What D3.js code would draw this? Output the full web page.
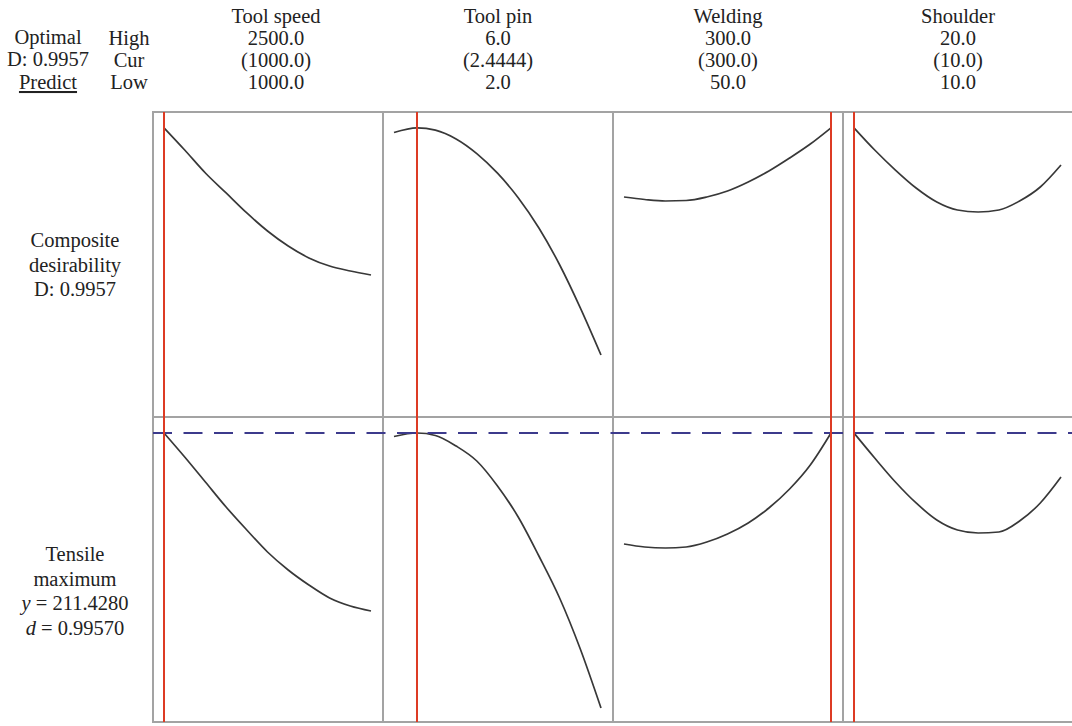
<!DOCTYPE html>
<html>
<head>
<meta charset="utf-8">
<script src="https://cdn.jsdelivr.net/npm/d3@7"></script>
<style>
  html, body { margin: 0; padding: 0; background: #fff; }
  svg { display: block; }
  text { font-family: "Liberation Serif", "DejaVu Serif", serif; fill: #222; }
</style>
</head>
<body>
<svg id="chart" width="1072" height="726"></svg>
<script>
// Factors and their settings (high / current / low)
const factors = ["Tool speed", "Tool pin", "Welding", "Shoulder"];
const highLabels = ["2500.0", "6.0", "300.0", "20.0"];
const curLabels = ["(1000.0)", "(2.4444)", "(300.0)", "(10.0)"];
const lowLabels = ["1000.0", "2.0", "50.0", "10.0"];
const lows = [1000, 2, 50, 10];
const highs = [2500, 6, 300, 20];
const current = [1000, 2.4444, 300, 10];

// Factor grids used for the profile traces
const speedX = [1000, 1150, 1300, 1450, 1600, 1750, 1900, 2050, 2200, 2350, 2500];
const pinX = [2.0, 2.4444, 2.8, 3.2, 3.6, 4.0, 4.4, 4.8, 5.2, 5.6, 6.0];
const weldX = [50, 75, 100, 125, 150, 175, 200, 225, 250, 275, 300];
const shoulderX = [10, 11, 12, 13, 14, 15, 16, 17, 18, 19, 20];

// Composite desirability along each factor
const speedD = [0.9957, 0.9504, 0.9034, 0.8626, 0.8217, 0.7850, 0.7543, 0.7300, 0.7134, 0.7032, 0.6951];
const pinD = [0.9861, 0.9957, 0.9910, 0.9730, 0.9430, 0.9030, 0.8530, 0.7910, 0.7160, 0.6280, 0.5317];
const weldD = [0.8544, 0.8493, 0.8462, 0.8472, 0.8544, 0.8666, 0.8850, 0.9075, 0.9340, 0.9626, 0.9957];
const shoulderD = [0.9957, 0.9504, 0.9095, 0.8728, 0.8442, 0.8278, 0.8237, 0.8278, 0.8462, 0.8748, 0.9197];

// Predicted tensile strength along each factor
const speedT = [211.43, 206.08, 200.51, 194.93, 189.81, 184.90, 180.89, 177.54, 174.65, 172.86, 171.75];
const pinT = [210.65, 211.43, 210.88, 208.53, 205.19, 199.62, 192.71, 184.01, 174.65, 163.28, 150.12];
const weldT = [186.69, 186.02, 185.79, 186.02, 187.13, 188.92, 191.37, 194.71, 198.95, 204.30, 211.43];
const shoulderT = [211.43, 205.86, 200.51, 195.83, 192.04, 189.81, 189.14, 189.36, 191.81, 195.83, 201.62];

const optimalD = 0.9957;
const optimalY = 211.4280;
const optimald = 0.99570;

const xs = [speedX, pinX, weldX, shoulderX];
const dSeries = [speedD, pinD, weldD, shoulderD];
const tSeries = [speedT, pinT, weldT, shoulderT];

// Layout
const panelLeft = 153, panelW = 230;
const rowTop = [112, 417], rowH = 305;
const padX = 11;

const svg = d3.select("#chart");

const yD = d3.scaleLinear().domain([0.405, 1.028]).range([rowTop[0] + rowH, rowTop[0]]);
const yT = d3.scaleLinear().domain([147, 215]).range([rowTop[1] + rowH, rowTop[1]]);

const xScales = factors.map((f, i) => {
  const left = panelLeft + i * panelW;
  return d3.scaleLinear().domain([lows[i], highs[i]]).range([left + padX, left + panelW - 12]);
});

const gray = "#a3a3a3";
const red = "#dd3b24";

// Panel frames
const frames = svg.append("g");
[0, 1].forEach(r => {
  factors.forEach((f, i) => {
    frames.append("rect")
      .attr("x", panelLeft + i * panelW)
      .attr("y", rowTop[r])
      .attr("width", panelW)
      .attr("height", rowH)
      .attr("fill", "none")
      .attr("stroke", gray)
      .attr("stroke-width", 2);
  });
});

// Profile traces
const line = (xsc, ysc) => d3.line()
  .x(d => xsc(d[0]))
  .y(d => ysc(d[1]))
  .curve(d3.curveMonotoneX);

const traces = svg.append("g")
  .attr("fill", "none")
  .attr("stroke", "#383838")
  .attr("stroke-width", 1.7)
  .attr("stroke-linejoin", "round");

factors.forEach((f, i) => {
  traces.append("path")
    .attr("d", line(xScales[i], yD)(d3.zip(xs[i], dSeries[i])));
  traces.append("path")
    .attr("d", line(xScales[i], yT)(d3.zip(xs[i], tSeries[i])));
});

// Optimal response reference line
svg.append("line")
  .attr("x1", panelLeft)
  .attr("x2", 1072)
  .attr("y1", yT(optimalY))
  .attr("y2", yT(optimalY))
  .attr("stroke", "#3c3a8c")
  .attr("stroke-width", 2)
  .attr("stroke-dasharray", "19 11.5");

// Current factor settings
factors.forEach((f, i) => {
  const x = xScales[i](current[i]);
  svg.append("line")
    .attr("x1", x).attr("x2", x)
    .attr("y1", rowTop[0]).attr("y2", rowTop[1] + rowH)
    .attr("stroke", red)
    .attr("stroke-width", 2);
});

// Column headers
const fs = 20.5;
const headRows = [factors, highLabels, curLabels, lowLabels];
const headY = [23, 45, 67, 89];
factors.forEach((f, i) => {
  const cx = panelLeft + i * panelW + panelW / 2 + (i === 0 ? 8 : 0);
  headRows.forEach((rowVals, r) => {
    svg.append("text")
      .attr("x", cx)
      .attr("y", headY[r])
      .attr("text-anchor", "middle")
      .attr("font-size", fs)
      .text(rowVals[i]);
  });
});

// Top-left legend block
const leftBlock = [
  { t: "Optimal", x: 48, y: 44 },
  { t: "D: " + optimalD.toFixed(4), x: 48, y: 66 },
  { t: "Predict", x: 48, y: 89, u: true }
];
leftBlock.forEach(d => {
  const t = svg.append("text")
    .attr("x", d.x).attr("y", d.y)
    .attr("text-anchor", "middle")
    .attr("font-size", fs)
    .text(d.t);
  if (d.u) t.attr("text-decoration", "underline");
});
["High", "Cur", "Low"].forEach((s, r) => {
  svg.append("text")
    .attr("x", 129).attr("y", headY[r + 1])
    .attr("text-anchor", "middle")
    .attr("font-size", fs)
    .text(s);
});

// Row labels
const rowLabel1 = ["Composite", "desirability", "D: " + optimalD.toFixed(4)];
rowLabel1.forEach((s, k) => {
  svg.append("text")
    .attr("x", 75).attr("y", 247 + k * 24.5)
    .attr("text-anchor", "middle")
    .attr("font-size", fs)
    .text(s);
});

const rowLabel2 = [
  [{ t: "Tensile" }],
  [{ t: "maximum" }],
  [{ t: "y", i: true }, { t: " = " + optimalY.toFixed(4) }],
  [{ t: "d", i: true }, { t: " = " + optimald.toFixed(5) }]
];
rowLabel2.forEach((parts, k) => {
  const t = svg.append("text")
    .attr("x", 75).attr("y", 561 + k * 24.5)
    .attr("text-anchor", "middle")
    .attr("font-size", fs);
  parts.forEach(p => {
    t.append("tspan")
      .attr("font-style", p.i ? "italic" : "normal")
      .text(p.t);
  });
});
</script>
</body>
</html>
